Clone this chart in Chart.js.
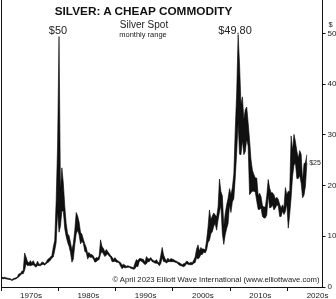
<!DOCTYPE html>
<html>
<head>
<meta charset="utf-8">
<script src="https://cdn.jsdelivr.net/npm/chart.js@4/dist/chart.umd.min.js"></script>
<style>
  html, body { margin: 0; padding: 0; background: #fff; }
  #wrap { position: relative; width: 336px; height: 299px; overflow: hidden; font-family: "Liberation Sans", Arial, sans-serif; color: #222; }
  #c { position: absolute; left: 0; top: 0; }
  .t { position: absolute; white-space: nowrap; transform: translate(-50%, -50%); line-height: 1; }
</style>
</head>
<body>
<div id="wrap">
  <canvas id="c" width="336" height="299"></canvas>
  <div class="t" style="left:143.5px; top:12px; font-size:11.8px; font-weight:bold; color:#111;">SILVER: A CHEAP COMMODITY</div>
  <div class="t" style="left:144px; top:25px; font-size:10px;">Silver Spot</div>
  <div class="t" style="left:143px; top:35px; font-size:7.5px;">monthly range</div>
  <div class="t" style="left:58px; top:30px; font-size:11px;">$50</div>
  <div class="t" style="left:235px; top:30px; font-size:11px;">$49.80</div>
  <div class="t" style="left:315px; top:161.5px; font-size:7px;">$25</div>
  <div class="t" style="left:330.5px; top:25px; font-size:7.5px;">$</div>
  <div class="t" style="left:216px; top:280px; font-size:7.7px;">© April 2023 Elliott Wave International (www.elliottwave.com)</div>
</div>
<script>
// Quarterly ranges of the silver spot price, US$/oz, 1970 Q1 .. 2023 Q2 (April)
const startYear = 1970;
const quarterHigh = [
  1.95,1.85,1.90,1.80,  1.75,1.70,1.65,1.45,  1.65,1.75,1.80,2.05,  2.60,2.60,3.10,3.20,
  6.70,5.90,5.00,4.80,  5.20,4.80,5.20,4.60,  4.40,5.10,4.50,4.50,  4.90,4.90,4.60,4.90,
  5.40,5.60,5.90,6.20,  7.90,9.20,17.0,28.0,  49.4,19.0,23.5,20.5,  16.0,12.5,10.5,10.1,
  8.80,7.30,8.60,11.2,  14.7,14.0,12.8,10.8,  10.4,9.40,8.50,7.80,  6.60,6.80,6.40,6.40,
  6.10,5.50,5.80,5.70,  6.10,9.30,8.00,7.60,  6.90,7.40,7.00,6.60,  6.20,5.90,5.40,5.80,
  5.40,5.20,5.00,4.80,  4.30,4.50,4.30,4.10,  4.20,4.10,4.00,3.90,  3.80,4.70,5.40,5.20,
  5.60,5.60,5.50,5.40,  4.90,6.00,5.60,5.50,  5.80,5.40,5.20,5.10,  5.40,4.90,4.80,6.20,
  7.80,6.30,5.60,5.20,  5.70,5.30,5.60,5.50,  5.40,5.20,5.10,4.90,  4.80,4.60,4.40,4.60,
  4.70,5.10,5.00,4.70,  4.90,4.80,5.30,5.90,  7.50,8.30,7.10,7.80,  7.50,7.50,7.30,9.20,
  11.8,15.2,13.3,14.0,  14.6,14.2,13.8,15.8,  21.3,18.8,18.0,12.0,  14.5,16.2,17.5,19.4,
  18.2,19.6,22.3,31.0,  38.3,49.8,44.0,36.0,  37.5,33.0,35.0,35.5,  32.4,29.0,25.1,23.0,
  22.2,21.5,21.5,18.0,  18.5,17.8,16.0,15.8,  15.8,18.0,21.2,19.5,  18.6,18.6,18.2,17.3,
  17.7,17.3,16.3,15.6,  16.2,15.6,19.6,18.2,  18.9,18.8,29.8,26.9,  30.1,28.7,26.8,25.4,
  26.9,26.2,20.9,24.3,  24.6,26.1
];
const quarterLow = [
  1.75,1.60,1.70,1.60,  1.55,1.50,1.45,1.30,  1.40,1.55,1.60,1.80,  2.00,2.30,2.60,2.60,
  3.30,4.60,4.20,4.30,  4.20,4.30,4.40,4.10,  3.90,4.30,4.20,4.20,  4.40,4.50,4.30,4.60,
  4.80,5.00,5.30,5.70,  5.90,7.20,8.80,15.0,  10.8,12.0,15.0,15.0,  11.5,9.90,8.80,8.00,
  6.80,4.90,5.50,8.30,  10.5,11.2,10.3,8.50,  9.00,8.60,7.00,6.80,  5.50,6.00,5.80,5.90,
  5.50,4.90,5.00,5.30,  5.40,6.50,7.00,6.50,  6.00,6.30,6.50,6.10,  5.80,5.00,5.00,5.10,
  4.90,4.90,4.70,4.10,  3.60,3.90,3.80,3.80,  3.90,3.90,3.70,3.60,  3.50,3.60,4.10,4.00,
  5.00,5.20,5.00,4.70,  4.40,4.60,5.00,5.00,  5.40,5.00,4.90,4.70,  4.70,4.60,4.20,4.60,
  5.80,5.00,5.00,4.70,  5.00,5.00,5.00,5.00,  5.00,4.90,4.80,4.60,  4.30,4.20,4.10,4.00,
  4.20,4.60,4.50,4.40,  4.40,4.40,4.70,4.80,  5.80,5.50,5.80,6.40,  6.40,6.90,6.70,7.30,
  8.80,9.20,10.5,10.9,  12.0,12.5,11.2,13.2,  14.8,16.1,10.5,8.40,  10.3,11.5,12.5,16.2,
  14.7,16.8,17.4,21.5,  26.5,32.5,26.2,26.1,  29.0,26.1,26.7,29.2,  27.8,18.2,18.6,18.9,
  18.9,18.7,16.9,15.3,  15.3,15.6,13.9,13.6,  13.6,14.2,18.2,15.6,  15.7,16.2,15.2,15.6,
  16.1,16.1,13.9,13.9,  15.0,14.3,14.9,16.5,  11.6,14.3,17.6,21.8,  24.0,24.5,21.4,21.4,
  22.0,20.5,17.6,18.1,  19.9,24.5
];
const decadeTicks = [1970, 1980, 1990, 2000, 2010, 2020];
const decadeLabels = ['1970s', '1980s', '1990s', '2000s', '2010s', '2020s'];
const priceTicks = [0, 10, 20, 30, 40, 50];

// quarter midpoints as x values
const quarterX = quarterHigh.map((_, i) => startYear + (i + 0.5) / 4);
const highPts = quarterHigh.map((v, i) => ({ x: quarterX[i], y: v }));
const lowPts = quarterLow.map((v, i) => ({ x: quarterX[i], y: v }));

const noPad = s => { s.paddingLeft = 0; s.paddingRight = 0; s.paddingTop = 0; s.paddingBottom = 0; };

new Chart(document.getElementById('c'), {
  type: 'line',
  data: {
    datasets: [
      { label: 'High', data: highPts, borderColor: '#000', borderWidth: 0.6, pointRadius: 0, fill: false, tension: 0, yAxisID: 'y' },
      { label: 'Low', data: lowPts, borderColor: '#000', borderWidth: 0.6, pointRadius: 0, fill: '-1', backgroundColor: '#111', tension: 0, yAxisID: 'y' }
    ]
  },
  options: {
    responsive: false,
    animation: false,
    devicePixelRatio: 1,
    layout: { padding: 0 },
    plugins: { legend: { display: false }, tooltip: { enabled: false }, title: { display: false } },
    scales: {
      x: {
        type: 'linear', position: 'bottom', min: 1970, max: 2026.1,
        afterBuildTicks: s => { s.ticks = decadeTicks.map(v => ({ value: v })); },
        afterFit: s => { s.height = 12; noPad(s); },
        ticks: {
          autoSkip: false, maxRotation: 0, labelOffset: 30, padding: 0,
          color: '#222', font: { family: 'Liberation Sans', size: 8 },
          callback: (v, i) => decadeLabels[i]
        },
        grid: { drawOnChartArea: false, drawTicks: true, tickLength: 4, color: '#111' },
        border: { display: true, color: '#111', width: 1 }
      },
      y: {
        type: 'linear', position: 'right', min: 0, max: 56.6,
        afterBuildTicks: s => { s.ticks = priceTicks.map(v => ({ value: v })); },
        afterFit: s => { s.width = 13.5; noPad(s); },
        ticks: { color: '#222', padding: 2, font: { family: 'Liberation Sans', size: 8 } },
        grid: { drawOnChartArea: false, drawTicks: true, tickLength: 3, color: '#111' },
        border: { display: true, color: '#111', width: 1 }
      },
      yl: {
        type: 'linear', position: 'left', min: 0, max: 56.6,
        afterFit: s => { s.width = 1; noPad(s); },
        ticks: { display: false },
        grid: { display: false, drawTicks: false },
        border: { display: true, color: '#111', width: 1 }
      }
    }
  }
});
</script>
</body>
</html>
